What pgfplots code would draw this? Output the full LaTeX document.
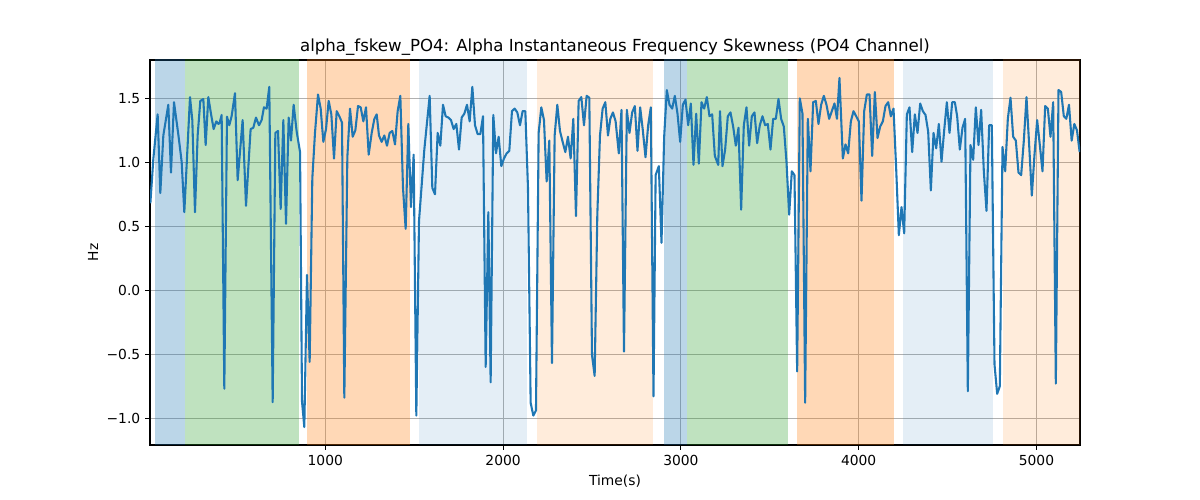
\documentclass[border=0pt]{standalone}
\usepackage{fontspec}
\setmainfont{DejaVu Sans}
\usepackage{pgfplots}
\pgfplotsset{compat=1.18}
\definecolor{tabblue}{RGB}{31,119,180}
\definecolor{tabgreen}{RGB}{44,160,44}
\definecolor{taborange}{RGB}{255,127,14}
\definecolor{gridgray}{RGB}{176,176,176}
\begin{document}
\begin{tikzpicture}
\path[use as bounding box] (0,0) rectangle (864bp,360bp);
\begin{axis}[
  at={(108bp,39.6bp)}, anchor=south west, scale only axis,
  width=669.6bp, height=277.2bp,
  xmin=14, xmax=5245, ymin=-1.21, ymax=1.8,
  axis line style={black, line width=0.8bp},
  tick align=outside, major tick length=3.5bp,
  tick style={black, line width=0.8bp},
  tick pos=left,
  grid=major, major grid style={gridgray, line width=0.8bp},
  xtick={1000,2000,3000,4000,5000}, xticklabels={1000,2000,3000,4000,5000},
  ytick={-1,-0.5,0,0.5,1,1.5}, yticklabels={−1.0,−0.5,0.0,0.5,1.0,1.5},
  tick label style={font=\fontsize{10}{12}\selectfont},
  every axis title shift=0pt,
  title={alpha\_fskew\_PO4: Alpha Instantaneous Frequency Skewness (PO4 Channel)},
  title style={font=\fontsize{12}{14}\selectfont, at={(axis description cs:0.5,1.0216)}, anchor=base, yshift=0pt},
  xlabel={Time(s)}, ylabel={Hz},
  xlabel style={font=\fontsize{10}{12}\selectfont, at={(axis description cs:0.5,-0.1064)}, anchor=base},
  ylabel style={font=\fontsize{10}{12}\selectfont, at={(axis description cs:-0.0612,0.5)}, anchor=center},
]
\addplot[draw=none, fill=tabblue, fill opacity=0.3] coordinates {(42,-2)(42,3)(211,3)(211,-2)};
\addplot[draw=none, fill=tabgreen, fill opacity=0.3] coordinates {(211,-2)(211,3)(852,3)(852,-2)};
\addplot[draw=none, fill=taborange, fill opacity=0.3] coordinates {(897,-2)(897,3)(1476,3)(1476,-2)};
\addplot[draw=none, fill=tabblue, fill opacity=0.12] coordinates {(1527,-2)(1527,3)(2132,3)(2132,-2)};
\addplot[draw=none, fill=taborange, fill opacity=0.15] coordinates {(2190,-2)(2190,3)(2841,3)(2841,-2)};
\addplot[draw=none, fill=tabblue, fill opacity=0.3] coordinates {(2904,-2)(2904,3)(3037,3)(3037,-2)};
\addplot[draw=none, fill=tabgreen, fill opacity=0.3] coordinates {(3037,-2)(3037,3)(3605,3)(3605,-2)};
\addplot[draw=none, fill=taborange, fill opacity=0.3] coordinates {(3652,-2)(3652,3)(4198,3)(4198,-2)};
\addplot[draw=none, fill=tabblue, fill opacity=0.12] coordinates {(4249,-2)(4249,3)(4758,3)(4758,-2)};
\addplot[draw=none, fill=taborange, fill opacity=0.15] coordinates {(4809,-2)(4809,3)(5300,3)(5300,-2)};
\addplot[tabblue, line width=1.5bp, line join=round, mark=none] coordinates {
(16,0.68)(33,1.03)(57,1.375)(72,0.76)(89,1.21)(117,1.45)(132,0.92)(149,1.47)(174,1.21)(192,1.005)(207,0.61)(239,1.51)(252,1.33)(267,0.61)(282,1.21)(297,1.48)(314,1.495)(327,1.135)(342,1.51)(357,1.38)(372,1.26)(387,1.32)(399,1.30)(406,1.31)(417,1.37)(432,-0.77)(447,1.357)(460,1.29)(473,1.36)(492,1.54)(507,0.86)(535,1.33)(554,0.66)(580,1.26)(595,1.27)(610,1.35)(627,1.29)(642,1.33)(655,1.43)(670,1.42)(685,1.59)(704,-0.875)(719,1.23)(734,1.245)(749,0.635)(764,1.33)(779,0.52)(794,1.35)(807,1.17)(822,1.45)(839,1.24)(858,1.08)(869,-0.87)(882,-1.07)(897,0.12)(912,-0.56)(927,0.875)(942,1.23)(959,1.53)(974,1.42)(989,1.16)(1004,1.26)(1019,1.48)(1034,1.375)(1049,1.03)(1064,1.40)(1079,1.36)(1094,1.31)(1107,-0.84)(1124,1.04)(1139,1.42)(1154,1.20)(1169,1.25)(1184,1.44)(1199,1.43)(1214,1.32)(1229,1.43)(1244,1.06)(1261,1.23)(1276,1.34)(1289,1.375)(1302,1.21)(1317,1.16)(1332,1.21)(1347,1.13)(1362,1.23)(1377,1.245)(1392,1.14)(1407,1.40)(1422,1.52)(1437,0.80)(1452,0.48)(1467,1.30)(1482,0.65)(1497,1.06)(1512,-0.98)(1527,0.54)(1557,1.10)(1587,1.52)(1602,0.80)(1617,0.75)(1632,1.23)(1647,1.13)(1662,1.45)(1677,1.36)(1692,1.35)(1707,1.33)(1722,1.26)(1737,1.30)(1752,1.10)(1767,1.35)(1782,1.38)(1797,1.45)(1812,1.32)(1827,1.59)(1842,1.29)(1857,1.22)(1872,1.22)(1887,1.36)(1902,-0.60)(1917,0.61)(1930,-0.72)(1945,1.37)(1960,1.07)(1975,1.20)(1990,0.97)(2005,1.03)(2020,1.07)(2035,1.09)(2050,1.40)(2065,1.42)(2080,1.39)(2095,1.29)(2110,1.40)(2125,1.40)(2140,0.80)(2155,-0.88)(2170,-0.98)(2185,-0.94)(2200,1.23)(2215,1.43)(2230,1.33)(2245,0.85)(2260,1.17)(2275,-0.57)(2290,1.21)(2305,1.45)(2320,1.245)(2335,1.16)(2350,1.08)(2365,1.20)(2380,1.03)(2395,1.34)(2410,0.58)(2425,1.48)(2440,1.51)(2455,1.29)(2470,1.52)(2485,1.505)(2500,-0.505)(2515,-0.67)(2530,0.59)(2545,1.21)(2560,1.42)(2575,1.47)(2590,1.21)(2603,1.34)(2618,1.39)(2633,1.32)(2651,1.07)(2666,1.41)(2680,-0.48)(2696,1.41)(2711,1.23)(2726,1.39)(2741,1.44)(2756,1.09)(2771,1.43)(2786,1.25)(2801,1.04)(2816,1.29)(2831,1.43)(2846,-0.83)(2858,0.90)(2876,0.97)(2891,0.37)(2906,1.20)(2921,1.565)(2936,1.45)(2951,1.42)(2966,1.52)(2981,1.38)(2996,1.16)(3011,1.45)(3026,1.49)(3041,1.29)(3056,1.46)(3071,0.98)(3086,1.38)(3101,0.99)(3116,1.47)(3131,1.42)(3146,1.51)(3161,1.36)(3176,1.375)(3191,1.05)(3210,0.98)(3220,1.40)(3234,0.97)(3249,1.10)(3264,1.36)(3279,1.39)(3294,1.28)(3309,1.13)(3324,1.27)(3339,0.63)(3354,1.29)(3369,1.43)(3384,1.13)(3399,1.36)(3414,1.39)(3429,1.15)(3444,1.29)(3459,1.36)(3474,1.29)(3489,1.30)(3504,1.10)(3519,1.34)(3534,1.34)(3549,1.495)(3564,1.34)(3579,1.28)(3594,1.005)(3609,0.59)(3624,0.93)(3639,0.90)(3654,-0.635)(3669,1.50)(3684,1.38)(3699,-0.88)(3714,1.34)(3729,0.93)(3744,1.47)(3759,1.48)(3774,1.30)(3789,1.45)(3804,1.52)(3819,1.45)(3834,1.34)(3849,1.40)(3864,1.46)(3878,1.34)(3892,1.66)(3911,1.03)(3926,1.14)(3941,1.07)(3956,1.32)(3971,1.40)(3986,1.36)(4001,1.32)(4016,0.70)(4031,1.40)(4046,1.53)(4061,1.53)(4076,1.05)(4091,1.55)(4106,1.19)(4121,1.28)(4136,1.32)(4151,1.44)(4166,1.47)(4181,1.36)(4196,1.42)(4211,0.95)(4226,0.43)(4241,0.65)(4256,0.445)(4271,1.375)(4286,1.43)(4301,1.08)(4316,1.375)(4331,1.23)(4346,1.46)(4361,1.40)(4376,1.37)(4391,1.24)(4406,0.78)(4421,1.23)(4436,1.11)(4451,1.30)(4466,1.005)(4481,1.25)(4496,1.47)(4511,1.23)(4526,1.47)(4541,1.47)(4554,1.36)(4569,1.10)(4584,1.27)(4599,1.34)(4614,-0.79)(4629,1.135)(4644,1.02)(4659,1.43)(4674,1.135)(4689,1.41)(4704,0.93)(4719,0.62)(4734,1.29)(4749,1.29)(4764,-0.58)(4779,-0.81)(4794,-0.75)(4809,1.12)(4824,0.93)(4839,1.34)(4854,1.505)(4869,1.20)(4884,1.17)(4899,0.92)(4914,0.90)(4929,1.17)(4944,1.51)(4959,1.135)(4974,0.74)(4989,1.06)(5004,1.33)(5019,1.135)(5034,0.93)(5049,1.44)(5064,1.42)(5079,1.20)(5094,1.47)(5109,-0.73)(5124,1.565)(5139,1.55)(5154,1.36)(5168,1.34)(5183,1.45)(5198,1.17)(5213,1.30)(5228,1.25)(5243,1.08)
};
\end{axis}
\end{tikzpicture}
\end{document}
